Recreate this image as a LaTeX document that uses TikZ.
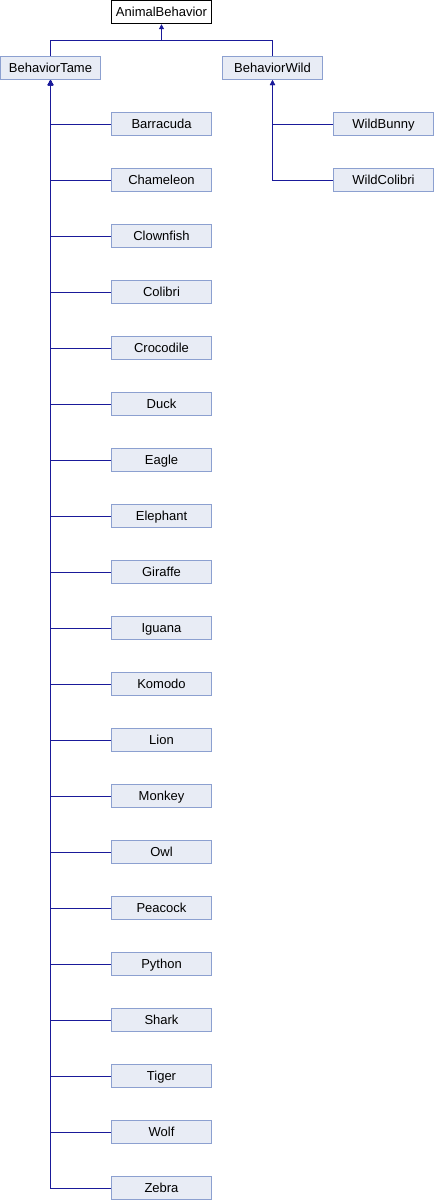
\documentclass[tikz,border=0pt]{standalone}
\usepackage{fontspec}
\setmainfont{Liberation Sans}
\usetikzlibrary{arrows.meta}
\definecolor{boxfill}{HTML}{E8ECF5}
\definecolor{boxline}{HTML}{8CA0D0}
\definecolor{edgecol}{HTML}{1A1A9A}
\begin{document}
\begin{tikzpicture}[x=1pt,y=-1pt,
  cls/.style={draw=boxline,fill=boxfill,line width=1pt,minimum width=100pt,minimum height=23pt,inner sep=0pt,text height=10.5pt,text depth=1.5pt,font=\fontsize{13pt}{15pt}\selectfont},
  root/.style={cls,draw=black,fill=white},
  edge/.style={draw=edgecol,line width=1pt},
  inh/.style={edge,-{Triangle[length=5pt,width=5pt]}}]
\useasboundingbox (0,0) rectangle (434,1200);
\node[root] (animal) at (161.5,12.2) {AnimalBehavior};
\node[cls] (tame) at (50.5,68) {BehaviorTame};
\node[cls] (wild) at (272.5,68) {BehaviorWild};
\coordinate (j) at (161.5,40.5);
\draw[inh] (tame.north) |- (j) -- (animal.south);
\draw[edge] (wild.north) |- (j);
\foreach \name [count=\i from 0] in {Barracuda,Chameleon,Clownfish,Colibri,Crocodile,Duck,Eagle,Elephant,Giraffe,Iguana,Komodo,Lion,Monkey,Owl,Peacock,Python,Shark,Tiger,Wolf,Zebra}{
  \node[cls] (\name) at (161.5,124+56*\i) {\name};
  \draw[inh] ([yshift=-0.5pt]\name.west) -| (tame.south);
}
\node[cls] (wbunny) at (383.5,124) {WildBunny};
\node[cls] (wcolibri) at (383.5,180) {WildColibri};
\draw[inh] ([yshift=-0.5pt]wbunny.west) -| (wild.south);
\draw[inh] ([yshift=-0.5pt]wcolibri.west) -| (wild.south);
\end{tikzpicture}
\end{document}
